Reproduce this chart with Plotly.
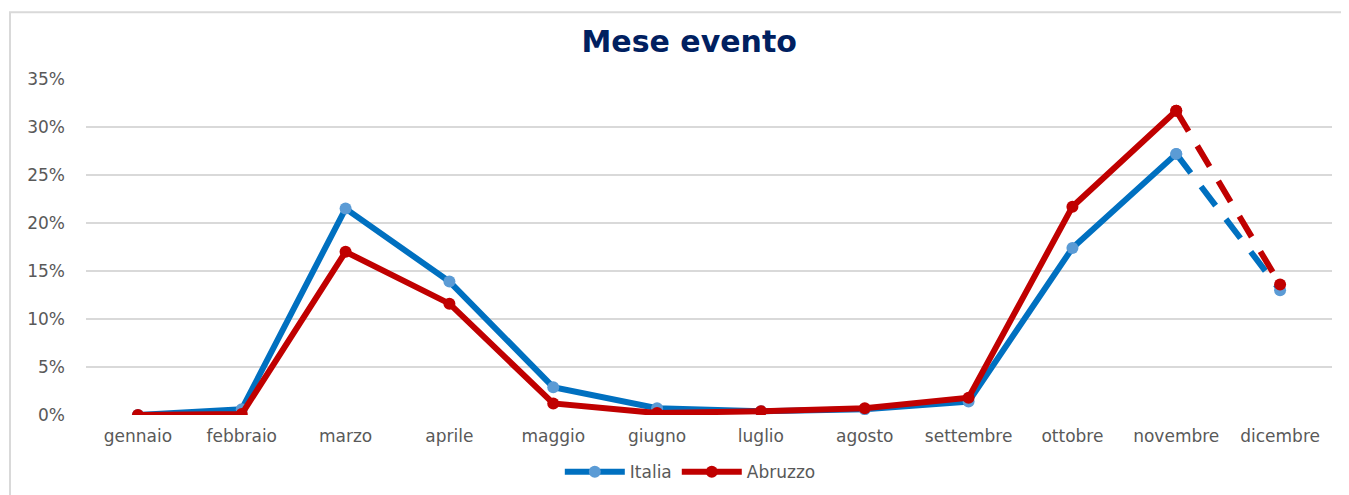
import plotly.graph_objects as go

months = ["gennaio", "febbraio", "marzo", "aprile", "maggio", "giugno",
          "luglio", "agosto", "settembre", "ottobre", "novembre", "dicembre"]
italia = [0.0, 0.6, 21.5, 13.9, 2.9, 0.7, 0.4, 0.6, 1.4, 17.4, 27.2, 13.0]
abruzzo = [0.0, 0.1, 17.0, 11.6, 1.2, 0.2, 0.4, 0.7, 1.8, 21.7, 31.7, 13.6]
y_ticks = [0, 5, 10, 15, 20, 25, 30, 35]

it_line = "#0070C0"
it_mark = "#5B9BD5"
ab_col = "#C00000"

fig = go.Figure()

def add_series(name, vals, lc, mc):
    v = [x / 100 for x in vals]
    fig.add_trace(go.Scatter(
        x=months[:11], y=v[:11], name=name, mode="lines+markers",
        line=dict(color=lc, width=6), marker=dict(color=mc, size=12),
        legendgroup=name, showlegend=True))
    fig.add_trace(go.Scatter(
        x=months[10:], y=v[10:], name=name, mode="lines+markers",
        line=dict(color=lc, width=6, dash="24px,17px"), marker=dict(color=mc, size=12),
        legendgroup=name, showlegend=False))

add_series("Italia", italia, it_line, it_mark)
add_series("Abruzzo", abruzzo, ab_col, ab_col)

fig.update_layout(
    width=1341, height=487,
    margin=dict(l=78, r=17, t=71, b=80, autoexpand=False),
    paper_bgcolor="white", plot_bgcolor="white",
    font=dict(family="DejaVu Sans", size=17, color="#595959"),
    title=dict(text="<b>Mese evento</b>", x=0.508, xanchor="center",
               y=0.932, yanchor="middle",
               font=dict(family="DejaVu Sans", size=30, color="#002060")),
    xaxis=dict(type="category", categoryorder="array", categoryarray=months,
               range=[-0.5, 11.5], showgrid=False, zeroline=False,
               showline=False, ticks="", ticklabelstandoff=9),
    yaxis=dict(range=[0, 0.35], tickvals=[t / 100 for t in y_ticks],
               ticktext=[f"{t}%" for t in y_ticks],
               showgrid=True, gridcolor="#D9D9D9", gridwidth=1.5,
               zeroline=False, showline=False, ticks="", ticklabelstandoff=20),
    legend=dict(orientation="h", x=0.485, xanchor="center", y=-0.17,
                yanchor="middle", font=dict(size=17, color="#595959"),
                itemwidth=60),
    shapes=[dict(type="rect", xref="paper", yref="paper",
                 x0=-0.061, x1=1.03, y0=-0.4, y1=1.199,
                 line=dict(color="#D9D9D9", width=2), fillcolor="rgba(0,0,0,0)",
                 layer="below")],
)

fig.write_html("out.html")
